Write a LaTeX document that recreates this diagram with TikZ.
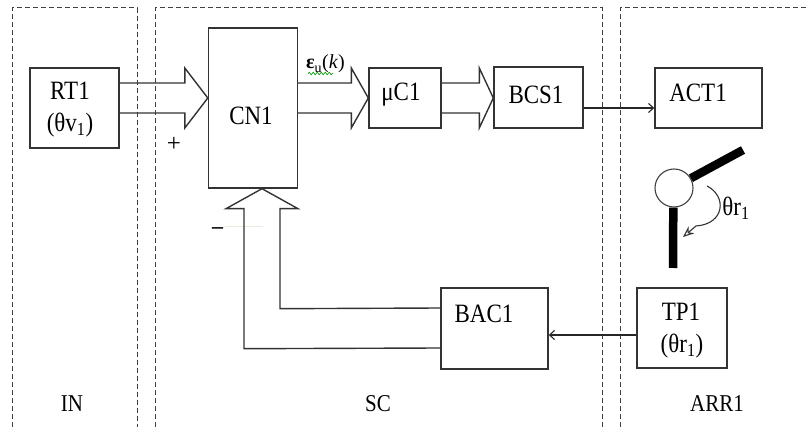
\documentclass[tikz,border=0pt]{standalone}
\usepackage{fontspec}
\setmainfont{Liberation Serif}
\usetikzlibrary{calc,arrows.meta,decorations.pathmorphing}
\newcommand{\tallt}[1]{\scalebox{1}[1.15]{#1}}
\begin{document}
\begin{tikzpicture}[x=1pt,y=-1pt,
  box/.style={draw=black!80,line width=1.4pt,inner sep=0pt,fill=none},
  txt/.style={inner sep=0pt,font=\fontsize{23}{25}\selectfont},
  lbl/.style={inner sep=0pt,font=\fontsize{21}{23}\selectfont},
  panel/.style={draw=black!75,line width=1pt,dash pattern=on 5pt off 3pt},
  hollow/.style={draw=black!80,line width=1.4pt,line join=miter},
  thin/.style={draw=black!85,line width=1.1pt,-{Straight Barb[length=5pt,width=9pt]}},
  arm/.style={line width=8.5pt,black}]
\useasboundingbox (0,0) rectangle (806,427);
% panels
\draw[panel] (12,427) -- (12,8) -- (137,8) -- (137,427);
\draw[panel] (155,427) -- (155,8) -- (602,8) -- (602,427);
\draw[panel] (620,427) -- (620,8) -- (806,8);
% boxes
\node[box,minimum width=89pt,minimum height=80pt] (RT1) at (74.5,108) {};
\node[box,minimum width=89pt,minimum height=160pt] (CN1) at (253,108) {};
\node[box,minimum width=72pt,minimum height=60pt] (uC1) at (405,98) {};
\node[box,minimum width=89pt,minimum height=61pt] (BCS1) at (538.5,97.5) {};
\node[box,minimum width=107pt,minimum height=60pt] (ACT1) at (708.5,98) {};
\node[box,minimum width=107pt,minimum height=81pt] (BAC1) at (494.5,328.5) {};
\node[box,minimum width=90pt,minimum height=80pt] (TP1) at (682,328) {};
% texts
\node[txt] (RT1a) at (70,91) {\tallt{RT1}};
\node[txt] (RT1b) at (70,125) {\tallt{(θv\textsubscript{1})}};
\node[txt] (CN1a) at (251,116) {\tallt{CN1}};
\node[txt] (uC1a) at (401,95) {\tallt{μC1}};
\node[txt] (BCS1a) at (536,95) {\tallt{BCS1}};
\node[txt] (ACT1a) at (698,93) {\tallt{ACT1}};
\node[txt] (BAC1a) at (484,314) {\tallt{BAC1}};
\node[txt] (TP1a) at (681,312) {\tallt{TP1}};
\node[txt] (TP1b) at (682,346) {\tallt{(θr\textsubscript{1})}};
\node[txt] (theta) at (736,208) {\tallt{θr\textsubscript{1}}};
\node[inner sep=0pt,font=\fontsize{20}{22}\selectfont,anchor=base west] (eps) at (306,69) {{\bfseries ε}\textsubscript{u}(\textit{k})};
\draw[green!60!black,line width=0.7pt,decorate,decoration={snake,segment length=4pt,amplitude=1.2pt}] (308,73.5) -- (333,73.5);
\node[inner sep=0pt,font=\fontsize{25}{27}\selectfont] (plus) at (174,144) {+};
\node[inner sep=0pt,font=\bfseries\fontsize{22}{24}\selectfont] (minus) at (217.5,231) {–};
\draw[draw={rgb,255:red,238;green,233;blue,218},line width=1pt] (225,227) -- (263,227);
\node[lbl] (IN) at (72,404) {\tallt{IN}};
\node[lbl] (SC) at (378,404) {\tallt{SC}};
\node[lbl] (ARR1) at (717,404) {\tallt{ARR1}};
% hollow arrows
\draw[hollow] ($(RT1.east)+(0,-25)$) -- ($(CN1.west)+(-23,-25)$) -- ($(CN1.west)+(-23,-40)$)
  -- ($(CN1.west)+(0,-10)$) -- ($(CN1.west)+(-23,20)$) -- ($(CN1.west)+(-23,5)$) -- ($(RT1.east)+(0,5)$);
\draw[hollow] ($(CN1.east)+(0,-25)$) -- ($(uC1.west)+(-17,-15)$) -- ($(uC1.west)+(-17,-30)$)
  -- (uC1.west) -- ($(uC1.west)+(-17,30)$) -- ($(uC1.west)+(-17,15)$) -- ($(CN1.east)+(0,5)$);
\draw[hollow] ($(uC1.east)+(0,-15)$) -- ($(BCS1.west)+(-14,-14.5)$) -- ($(BCS1.west)+(-14,-29.5)$)
  -- ($(BCS1.west)+(0,0.5)$) -- ($(BCS1.west)+(-14,30.5)$) -- ($(BCS1.west)+(-14,15.5)$) -- ($(uC1.east)+(0,15)$);
\draw[hollow] ($(BAC1.west)+(0,19.5)$) -- ($(CN1.south)+(-9,160)$) -- ($(CN1.south)+(-9,20)$)
  -- ($(CN1.south)+(-27,20)$) -- ($(CN1.south)+(9,0)$) -- ($(CN1.south)+(45,20)$)
  -- ($(CN1.south)+(27,20)$) -- ($(CN1.south)+(27,120)$) -- ($(BAC1.west)+(0,-20.5)$);
% thin arrows
\draw[thin] ($(BCS1.east)+(0,10.5)$) -- ($(ACT1.west)+(0,10)$);
\draw[thin] ($(TP1.west)+(0,7)$) -- ($(BAC1.east)+(0,6.5)$);
% robot arm
\coordinate (armEnd) at (743,150);
\coordinate (armFoot) at (673,268);
\node[circle,draw=black!75,line width=1.1pt,minimum size=38pt,inner sep=0pt,fill=white] (J) at (674,188) {};
\draw[arm] (J.30) -- (armEnd);
\draw[arm] (J.268) -- (armFoot);
\draw[black!80,line width=1.1pt,-{Stealth[open,length=11pt,width=9pt]}] (707,186) .. controls (727,196) and (725,224) .. (696,226) -- (683,237);
\end{tikzpicture}
\end{document}
